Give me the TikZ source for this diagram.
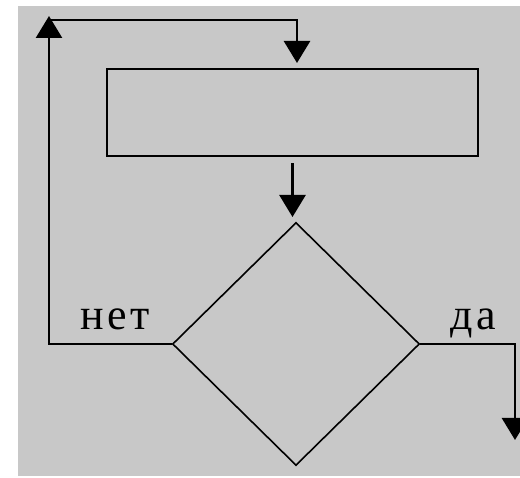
\documentclass[tikz,border=0pt]{standalone}
\usepackage{fontspec}
\newfontfamily\labelfont[LetterSpace=8]{Liberation Serif}
\usetikzlibrary{shapes.geometric,arrows.meta}
\definecolor{bgcol}{RGB}{200,200,200}
\tikzset{
  flow/.style={line width=2.6pt, line join=miter, -{Triangle[length=22pt,width=26pt]}},
  plainbox/.style={draw, line width=2.6pt, minimum width=371pt, minimum height=87pt, inner sep=0pt},
  decision/.style={draw, diamond, line width=1.6pt, minimum width=247pt, minimum height=243pt, aspect=1.016, inner sep=0pt},
  lbl/.style={font=\labelfont\fontsize{44}{46}\selectfont, inner sep=0pt, anchor=base west}
}
\begin{document}
\begin{tikzpicture}[x=1pt,y=-1pt]
\useasboundingbox (0,0) rectangle (520,478);
\fill[bgcol] (18,6) rectangle (520,476);
\node[plainbox] (box) at (292.5,112.5) {};
\node[decision] (dec) at (296,344) {};
\coordinate (uptip) at (49,16);
\coordinate (topleft) at (49,20);
\coordinate (intop) at (297,63);
\coordinate (downtip) at (515,440);
\draw[flow] (dec.west) -| (uptip);
\draw[flow] (topleft) -| (intop);
\draw[flow, shorten <=6pt] (box.south) -- (box.south |- 0,217);
\draw[flow] (dec.east) -| (downtip);
\node[lbl] (no) at (80,330) {нет};
\node[lbl] (yes) at (450,330) {да};
\end{tikzpicture}
\end{document}
